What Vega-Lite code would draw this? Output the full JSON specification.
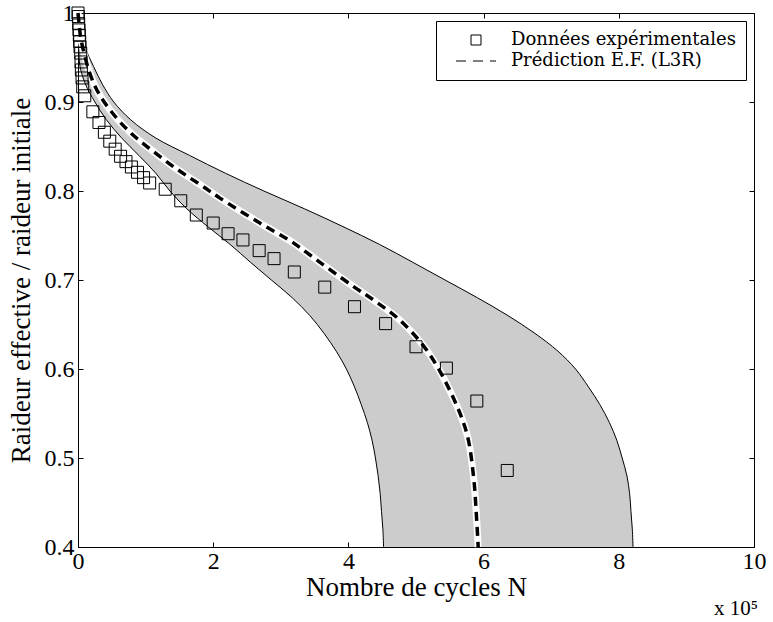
{
  "$schema": "https://vega.github.io/schema/vega-lite/v6.json",
  "width": 676,
  "height": 534,
  "autosize": {"type": "none"},
  "padding": {"left": 78, "top": 13, "right": 19, "bottom": 75},
  "background": "white",
  "config": {
    "view": {"stroke": "black", "strokeWidth": 1},
    "axis": {
      "labelFont": "Liberation Serif, Times New Roman, serif",
      "titleFont": "Liberation Serif, Times New Roman, serif",
      "labelFontSize": 24,
      "titleFontSize": 27,
      "labelColor": "black",
      "titleColor": "black",
      "titleFontWeight": "normal",
      "domainColor": "black",
      "tickColor": "black",
      "labelFlush": false,
      "grid": false
    }
  },
  "title": {
    "text": "x 10⁵",
    "orient": "bottom",
    "anchor": "end",
    "font": "Liberation Serif, Times New Roman, serif",
    "fontSize": 21,
    "fontWeight": "normal",
    "color": "black",
    "offset": -2,
    "dx": -8
  },
  "datasets": {
    "band": [
      {"y": 1.0, "xlo": 0.0, "xhi": 0.0},
      {"y": 0.98, "xlo": 0.003, "xhi": 0.03},
      {"y": 0.96, "xlo": 0.01, "xhi": 0.11},
      {"y": 0.94, "xlo": 0.03, "xhi": 0.23},
      {"y": 0.92, "xlo": 0.11, "xhi": 0.36},
      {"y": 0.9, "xlo": 0.25, "xhi": 0.53},
      {"y": 0.88, "xlo": 0.42, "xhi": 0.78},
      {"y": 0.86, "xlo": 0.64, "xhi": 1.14},
      {"y": 0.84, "xlo": 0.9, "xhi": 1.65},
      {"y": 0.82, "xlo": 1.15, "xhi": 2.18},
      {"y": 0.8, "xlo": 1.36, "xhi": 2.75},
      {"y": 0.78, "xlo": 1.61, "xhi": 3.35},
      {"y": 0.76, "xlo": 1.92, "xhi": 3.92},
      {"y": 0.74, "xlo": 2.25, "xhi": 4.46},
      {"y": 0.72, "xlo": 2.55, "xhi": 4.95},
      {"y": 0.7, "xlo": 2.86, "xhi": 5.43},
      {"y": 0.68, "xlo": 3.17, "xhi": 5.91},
      {"y": 0.66, "xlo": 3.43, "xhi": 6.36},
      {"y": 0.64, "xlo": 3.64, "xhi": 6.76},
      {"y": 0.62, "xlo": 3.82, "xhi": 7.1},
      {"y": 0.6, "xlo": 3.97, "xhi": 7.36},
      {"y": 0.58, "xlo": 4.09, "xhi": 7.55},
      {"y": 0.56, "xlo": 4.19, "xhi": 7.72},
      {"y": 0.54, "xlo": 4.28, "xhi": 7.86},
      {"y": 0.52, "xlo": 4.35, "xhi": 7.97},
      {"y": 0.5, "xlo": 4.4, "xhi": 8.05},
      {"y": 0.48, "xlo": 4.44, "xhi": 8.12},
      {"y": 0.46, "xlo": 4.47, "xhi": 8.16},
      {"y": 0.44, "xlo": 4.49, "xhi": 8.18},
      {"y": 0.42, "xlo": 4.51, "xhi": 8.2},
      {"y": 0.4, "xlo": 4.52, "xhi": 8.21}
    ],
    "pred": [
      {"x": 0.0, "y": 1.0},
      {"x": 0.02, "y": 0.985},
      {"x": 0.04, "y": 0.972},
      {"x": 0.08, "y": 0.958},
      {"x": 0.15, "y": 0.938},
      {"x": 0.25, "y": 0.918},
      {"x": 0.37, "y": 0.902},
      {"x": 0.57, "y": 0.882},
      {"x": 0.77, "y": 0.866},
      {"x": 0.97, "y": 0.853},
      {"x": 1.19, "y": 0.84},
      {"x": 1.4, "y": 0.828},
      {"x": 1.61, "y": 0.817},
      {"x": 1.85, "y": 0.805},
      {"x": 2.1, "y": 0.792},
      {"x": 2.69, "y": 0.764},
      {"x": 3.18, "y": 0.742},
      {"x": 3.38, "y": 0.731},
      {"x": 4.05, "y": 0.694},
      {"x": 4.4, "y": 0.676},
      {"x": 4.76, "y": 0.655},
      {"x": 5.16, "y": 0.621},
      {"x": 5.5, "y": 0.576},
      {"x": 5.75, "y": 0.528},
      {"x": 5.85, "y": 0.48},
      {"x": 5.89, "y": 0.44},
      {"x": 5.92, "y": 0.4}
    ],
    "exp": [
      {"serie": "Données expérimentales", "x": 0.0, "y": 1.0},
      {"serie": "Données expérimentales", "x": 0.005, "y": 0.996},
      {"serie": "Données expérimentales", "x": 0.01, "y": 0.988},
      {"serie": "Données expérimentales", "x": 0.015, "y": 0.981},
      {"serie": "Données expérimentales", "x": 0.02, "y": 0.975},
      {"serie": "Données expérimentales", "x": 0.025, "y": 0.968},
      {"serie": "Données expérimentales", "x": 0.03, "y": 0.962},
      {"serie": "Données expérimentales", "x": 0.04, "y": 0.955},
      {"serie": "Données expérimentales", "x": 0.045, "y": 0.945},
      {"serie": "Données expérimentales", "x": 0.05, "y": 0.936},
      {"serie": "Données expérimentales", "x": 0.06, "y": 0.927},
      {"serie": "Données expérimentales", "x": 0.07, "y": 0.917},
      {"serie": "Données expérimentales", "x": 0.1, "y": 0.907},
      {"serie": "Données expérimentales", "x": 0.22, "y": 0.889},
      {"serie": "Données expérimentales", "x": 0.31, "y": 0.877},
      {"serie": "Données expérimentales", "x": 0.39, "y": 0.866},
      {"serie": "Données expérimentales", "x": 0.47, "y": 0.856},
      {"serie": "Données expérimentales", "x": 0.55, "y": 0.847},
      {"serie": "Données expérimentales", "x": 0.63, "y": 0.839},
      {"serie": "Données expérimentales", "x": 0.71, "y": 0.833},
      {"serie": "Données expérimentales", "x": 0.79, "y": 0.827},
      {"serie": "Données expérimentales", "x": 0.88, "y": 0.821},
      {"serie": "Données expérimentales", "x": 0.97, "y": 0.815},
      {"serie": "Données expérimentales", "x": 1.06, "y": 0.809},
      {"serie": "Données expérimentales", "x": 1.29, "y": 0.802},
      {"serie": "Données expérimentales", "x": 1.52, "y": 0.789},
      {"serie": "Données expérimentales", "x": 1.75, "y": 0.773},
      {"serie": "Données expérimentales", "x": 2.0, "y": 0.764},
      {"serie": "Données expérimentales", "x": 2.22, "y": 0.752},
      {"serie": "Données expérimentales", "x": 2.44, "y": 0.745},
      {"serie": "Données expérimentales", "x": 2.68, "y": 0.733},
      {"serie": "Données expérimentales", "x": 2.9, "y": 0.724},
      {"serie": "Données expérimentales", "x": 3.2, "y": 0.709},
      {"serie": "Données expérimentales", "x": 3.65, "y": 0.692},
      {"serie": "Données expérimentales", "x": 4.09, "y": 0.67},
      {"serie": "Données expérimentales", "x": 4.55, "y": 0.651},
      {"serie": "Données expérimentales", "x": 5.0, "y": 0.625},
      {"serie": "Données expérimentales", "x": 5.45, "y": 0.601},
      {"serie": "Données expérimentales", "x": 5.9, "y": 0.564},
      {"serie": "Données expérimentales", "x": 6.35, "y": 0.486}
    ]
  },
  "layer": [
    {
      "data": {"name": "band"},
      "mark": {"type": "area", "orient": "horizontal", "color": "#cccccc", "interpolate": "catmull-rom"},
      "encoding": {
        "y": {
          "field": "y", "type": "quantitative",
          "scale": {"domain": [0.4, 1], "nice": false, "zero": false},
          "axis": {
            "orient": "left",
            "values": [0.4, 0.5, 0.6, 0.7, 0.8, 0.9, 1],
            "labelExpr": "datum.value == 1 ? '1' : format(datum.value, '.1f')",
            "tickSize": -5,
            "labelPadding": 9,
            "title": "Raideur effective / raideur initiale",
            "titlePadding": 9
          }
        },
        "x": {
          "field": "xlo", "type": "quantitative",
          "scale": {"domain": [0, 10], "nice": false, "zero": false},
          "axis": {
            "orient": "bottom",
            "values": [0, 2, 4, 6, 8, 10],
            "format": "d",
            "tickSize": -5,
            "labelPadding": 7,
            "title": "Nombre de cycles N",
            "titlePadding": 1
          }
        },
        "x2": {"field": "xhi"}
      }
    },
    {
      "data": {"name": "band"},
      "mark": {"type": "line", "color": "black", "strokeWidth": 1, "interpolate": "catmull-rom"},
      "encoding": {
        "x": {
          "field": "xhi", "type": "quantitative",
          "scale": {"domain": [0, 10], "nice": false, "zero": false},
          "axis": {"orient": "top", "values": [0, 2, 4, 6, 8, 10], "labels": false, "title": null, "tickSize": -5}
        },
        "y": {
          "field": "y", "type": "quantitative",
          "scale": {"domain": [0.4, 1], "nice": false, "zero": false},
          "axis": {"orient": "right", "values": [0.4, 0.5, 0.6, 0.7, 0.8, 0.9, 1], "labels": false, "title": null, "tickSize": -5}
        },
        "order": {"field": "y", "sort": "descending"}
      }
    },
    {
      "data": {"name": "band"},
      "mark": {"type": "line", "color": "black", "strokeWidth": 1, "interpolate": "catmull-rom"},
      "encoding": {
        "x": {"field": "xlo", "type": "quantitative", "scale": {"domain": [0, 10], "nice": false, "zero": false}, "axis": null},
        "y": {"field": "y", "type": "quantitative", "scale": {"domain": [0.4, 1], "nice": false, "zero": false}, "axis": null},
        "order": {"field": "y", "sort": "descending"}
      }
    },
    {
      "data": {"name": "pred"},
      "mark": {"type": "line", "color": "white", "strokeWidth": 7, "interpolate": "catmull-rom"},
      "encoding": {
        "x": {"field": "x", "type": "quantitative", "scale": {"domain": [0, 10], "nice": false, "zero": false}, "axis": null},
        "y": {"field": "y", "type": "quantitative", "scale": {"domain": [0.4, 1], "nice": false, "zero": false}, "axis": null},
        "order": {"field": "y", "sort": "descending"}
      }
    },
    {
      "data": {"name": "pred"},
      "mark": {"type": "line", "color": "black", "strokeWidth": 3.5, "strokeDash": [9, 6], "interpolate": "catmull-rom"},
      "encoding": {
        "x": {"field": "x", "type": "quantitative", "scale": {"domain": [0, 10], "nice": false, "zero": false}, "axis": null},
        "y": {"field": "y", "type": "quantitative", "scale": {"domain": [0.4, 1], "nice": false, "zero": false}, "axis": null},
        "order": {"field": "y", "sort": "descending"}
      }
    },
    {
      "data": {"name": "exp"},
      "mark": {"type": "point", "filled": false, "size": 144, "strokeWidth": 1, "color": "black", "opacity": 1},
      "encoding": {
        "x": {"field": "x", "type": "quantitative", "scale": {"domain": [0, 10], "nice": false, "zero": false}, "axis": null},
        "y": {"field": "y", "type": "quantitative", "scale": {"domain": [0.4, 1], "nice": false, "zero": false}, "axis": null},
        "shape": {
          "field": "serie", "type": "nominal",
          "scale": {
            "domain": ["Données expérimentales", "Prédiction E.F. (L3R)"],
            "range": ["square", "M-4,0H-2M-0.6,0H1.4M2.8,0H4"]
          },
          "legend": {
            "title": null,
            "orient": "top-right",
            "offset": 8,
            "padding": 10,
            "strokeColor": "black",
            "fillColor": "white",
            "cornerRadius": 0,
            "symbolSize": 100,
            "symbolOffset": 21,
            "symbolStrokeColor": "black",
            "symbolStrokeWidth": 1,
            "labelOffset": 26,
            "rowPadding": 3,
            "labelFont": "DejaVu Serif, serif",
            "labelFontSize": 18,
            "labelColor": "black",
            "labelLimit": 400,
            "encode": {
              "symbols": {
                "update": {
                  "strokeWidth": {"signal": "datum.value === 'Prédiction E.F. (L3R)' ? 3.5 : 1"},
                  "size": {"value": 100}
                }
              }
            }
          }
        }
      }
    }
  ]
}
